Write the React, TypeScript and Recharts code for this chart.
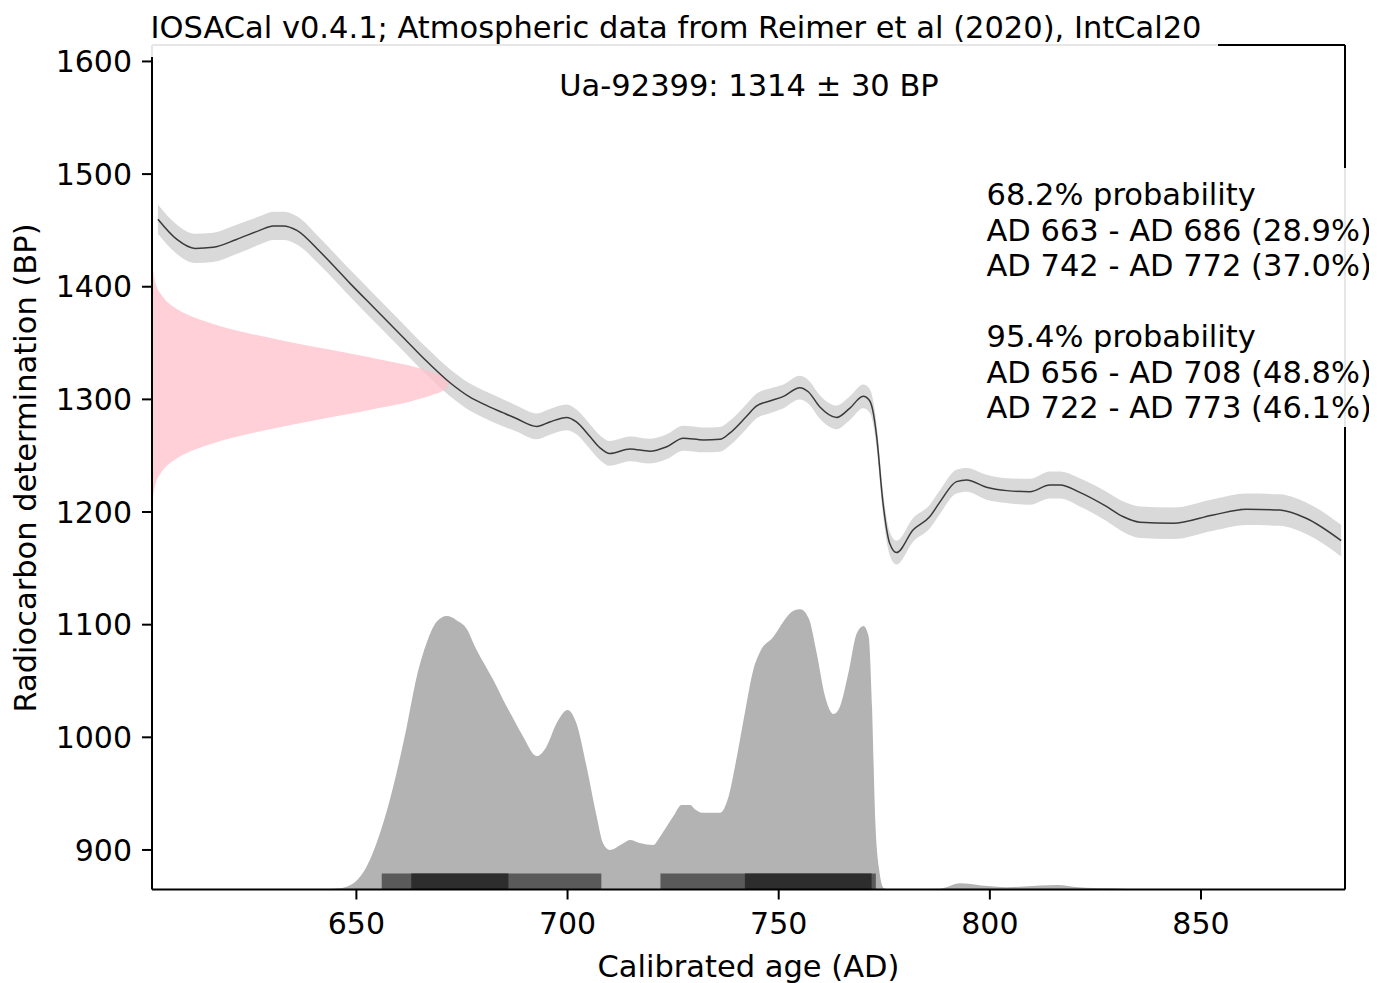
import React from 'react';
import { ComposedChart, Area, Line, XAxis, YAxis, ReferenceArea, ReferenceLine } from 'recharts';

// Calibration curve (IntCal20)
const curveYears = [603, 607.5, 611.8, 616.1, 621.6, 627.1, 630.3, 632.7, 635.9, 641.4, 648.5, 654, 661.1, 666.6, 672.1, 676.9, 680, 684.8, 687.9, 692.7, 695.8, 699.8, 702.1, 705.3, 707.7, 710, 714.8, 719.5, 723.5, 727.4, 732.2, 736.1, 738.4, 742.4, 744.7, 747.9, 751, 755, 757, 759.7, 763.7, 766.8, 770, 771.5, 772.4, 773.2, 774.7, 776.3, 777.9, 781.8, 785.8, 788.2, 792.1, 794.5, 799.2, 804, 809.5, 814.2, 816.6, 821.3, 827.6, 831.5, 835.5, 843.4, 852.9, 860.8, 868.6, 874.9, 883.2];
const curveBP = [1460, 1442, 1434, 1435, 1442, 1450, 1454, 1454, 1450, 1431, 1403, 1382, 1355, 1334, 1315, 1302, 1296, 1288, 1283, 1276, 1280, 1284, 1280, 1267, 1257, 1252, 1256, 1254, 1258, 1265.5, 1264, 1264.5, 1270, 1285, 1294, 1298.6, 1302.4, 1310.4, 1306.8, 1293.5, 1284, 1292, 1302.7, 1299, 1288, 1267, 1208, 1172, 1164, 1184, 1196, 1209, 1227, 1228.5, 1222, 1219, 1218, 1224, 1224, 1217.5, 1205, 1196, 1191, 1190, 1197.4, 1202.4, 1201.8, 1194.5, 1174.6];
const curveSigma = [13, 13, 13, 13, 13, 12.5, 12.5, 12.5, 12.5, 12, 12, 12, 12, 12, 12, 12, 12, 12, 11.5, 11.5, 11.5, 11.5, 11, 11, 11, 11, 11, 11, 11, 11, 11, 11, 11, 11, 11, 11, 10.5, 10.5, 10.5, 10.5, 10.5, 10.5, 10.5, 10.5, 10.5, 10.5, 10.5, 10.5, 10.5, 10.5, 10.5, 10.5, 10.5, 10.5, 11, 11, 11.5, 12, 12, 12.5, 13, 13.5, 14, 14, 14, 14, 14, 14, 14];

// Radiocarbon determination 1314 ± 30 BP, drawn along the BP axis (half-widths)
const dateBP = 1314;
const pinkYears = [601.6, 601.85, 602.1, 602.6, 603.6, 604.6, 606.6, 609.6, 613.6, 618.6, 624.6, 631.6, 639.6, 647.6, 655.6, 662.6, 667.6, 670.6, 672.1];
const pinkHalf = [101, 100, 94.5, 87, 80, 75, 68.5, 62, 56, 50, 44.5, 39, 33, 27.5, 21.5, 16, 10.5, 6, 0];

// Calibrated probability distribution (top edge, in BP-axis units)
const postYears = [641, 646.1, 649.3, 652.4, 655.6, 658.7, 661.9, 664.3, 666.6, 669, 671.4, 673.7, 676.5, 677.7, 680, 682.4, 684.8, 687.1, 689.5, 692.7, 695, 697.4, 700, 702.1, 704.5, 706.9, 708.4, 710, 713.2, 714.8, 717.1, 720.3, 721.9, 725, 727, 729, 730.2, 732.2, 736.1, 738.1, 740.1, 742.1, 744, 745.6, 748.8, 751.1, 753.5, 755.1, 757.1, 759, 761, 763, 764.5, 766.5, 768.5, 770.1, 771.3, 772.1, 772.9, 773.7, 774.9, 776, 788, 793, 798, 804, 812, 816, 821, 828, 835];
const postTop = [865, 866, 870.4, 885, 915, 956, 1009, 1054, 1083.5, 1102.7, 1107.7, 1104, 1094, 1083.5, 1067, 1051, 1033, 1017, 1000.6, 983.4, 991.7, 1012.5, 1024.3, 1012.5, 974, 929.6, 906, 900, 906, 908.8, 906.2, 904.4, 911.8, 929.6, 940, 940, 936, 933, 933, 947, 983, 1024, 1060, 1076, 1089.4, 1102.7, 1112.4, 1113.7, 1105.7, 1074.6, 1036, 1020.7, 1027.2, 1057, 1092.4, 1098.8, 1089.4, 1027, 923.7, 885, 866, 865, 865.5, 870.4, 868.5, 867, 868.5, 869, 867, 866, 865];

// Highest density ranges
const range95Start = [656, 722];
const range95End = [708, 773];
const range68Start = [663, 742];
const range68End = [686, 772];

const xTicks = [650, 700, 750, 800, 850];
const yTicks = [900, 1000, 1100, 1200, 1300, 1400, 1500, 1600];
const xDomain: [number, number] = [601.6, 884.1];
const yDomain: [number, number] = [864.9, 1614.6];
const barTopBP = 879.2;

const titleText = 'IOSACal v0.4.1; Atmospheric data from Reimer et al (2020), IntCal20';
const sampleText = 'Ua-92399: 1314 ± 30 BP';
const probLines = ['68.2% probability', 'AD 663 - AD 686 (28.9%)', 'AD 742 - AD 772 (37.0%)', '', '95.4% probability', 'AD 656 - AD 708 (48.8%)', 'AD 722 - AD 773 (46.1%)'];
const xLabel = 'Calibrated age (AD)';
const yLabel = 'Radiocarbon determination (BP)';

const curveData = curveYears.map((y, i) => ({
  year: y,
  bp: curveBP[i],
  band: [curveBP[i] - curveSigma[i], curveBP[i] + curveSigma[i]],
}));
const pinkData = pinkYears.map((y, i) => ({ year: y, pink: [dateBP - pinkHalf[i], dateBP + pinkHalf[i]] }));
const postData = postYears.map((y, i) => ({ year: y, p: postTop[i] }));

const FONT = "'DejaVu Sans', sans-serif";
const W = 1369;
const H = 975;
const TXT = 30.5;

export default function App() {
  const tickStyle = { fill: '#000', fontSize: 30, fontFamily: FONT };
  return (
    <div style={{ position: 'relative', width: W, height: H, fontFamily: FONT, background: '#fff' }}>
      <ComposedChart width={W} height={H} margin={{ top: 37, right: 32, bottom: 0, left: 0 }}>
        <XAxis
          type="number"
          dataKey="year"
          domain={xDomain}
          ticks={xTicks}
          allowDataOverflow
          height={93.5}
          tickSize={10}
          tickMargin={13}
          tick={tickStyle}
          axisLine={{ stroke: '#000', strokeWidth: 2 }}
          tickLine={{ stroke: '#000', strokeWidth: 2 }}
        />
        <YAxis
          type="number"
          domain={yDomain}
          ticks={yTicks}
          allowDataOverflow
          width={144}
          tickSize={10}
          tickMargin={10}
          tick={tickStyle}
          axisLine={{ stroke: '#000', strokeWidth: 2 }}
          tickLine={{ stroke: '#000', strokeWidth: 2 }}
        />
        <Area
          data={postData}
          dataKey="p"
          type="monotone"
          baseValue={yDomain[0]}
          fill="#b3b3b3"
          fillOpacity={1}
          stroke="none"
          isAnimationActive={false}
        />
        <Area
          data={curveData}
          dataKey="band"
          type="monotone"
          fill="#d9d9d9"
          fillOpacity={1}
          stroke="none"
          isAnimationActive={false}
        />
        <Area
          data={pinkData}
          dataKey="pink"
          type="monotone"
          fill="#ffc0cb"
          fillOpacity={0.75}
          stroke="none"
          isAnimationActive={false}
        />
        <Line
          data={curveData}
          dataKey="bp"
          type="monotone"
          stroke="#3a3a3a"
          strokeWidth={1.5}
          dot={false}
          isAnimationActive={false}
        />
        {range95Start.map((s, i) => (
          <ReferenceArea key={'r95' + i} x1={s} x2={range95End[i]} y1={yDomain[0]} y2={barTopBP} fill="#5a5a5a" fillOpacity={1} stroke="none" zIndex={110} />
        ))}
        {range68Start.map((s, i) => (
          <ReferenceArea key={'r68' + i} x1={s} x2={range68End[i]} y1={yDomain[0]} y2={barTopBP} fill="#2d2d2d" fillOpacity={1} stroke="none" zIndex={120} />
        ))}
        <ReferenceLine y={yDomain[1]} stroke="#000" strokeWidth={2} />
        <ReferenceLine x={xDomain[1]} stroke="#000" strokeWidth={2} />
      </ComposedChart>
      <svg width={W} height={H} style={{ position: 'absolute', left: 0, top: 0, pointerEvents: 'none' }}>
        <rect x={139} y={-8} width={1071} height={57} fill="#fff" fillOpacity={0.9} />
        <rect x={970} y={160} width={399} height={259} fill="#fff" fillOpacity={0.9} />
        <g fontFamily={FONT} fontSize={TXT} fill="#000">
          <text x={142.5} y={30.3}>{titleText}</text>
          <text x={741} y={88} textAnchor="middle">{sampleText}</text>
          {probLines.map((t, i) => (
            <text key={i} x={978.5} y={197 + i * 35.5}>{t}</text>
          ))}
          <text x={740.5} y={969} textAnchor="middle">{xLabel}</text>
          <text x={28} y={460} textAnchor="middle" transform="rotate(-90 28 460)">{yLabel}</text>
        </g>
      </svg>
    </div>
  );
}
